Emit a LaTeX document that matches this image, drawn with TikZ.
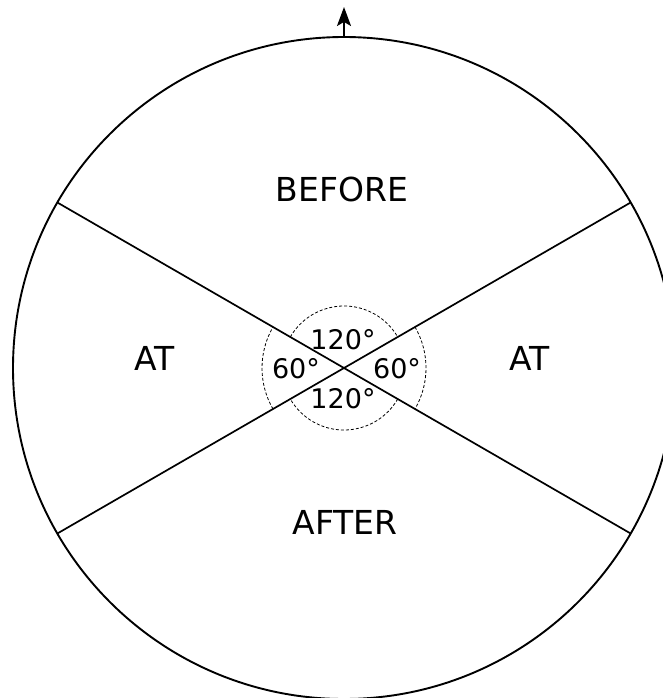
\documentclass[tikz,border=0pt]{standalone}
\usepackage{fontspec}
\setmainfont{DejaVu Sans}
\usetikzlibrary{arrows.meta,calc}
\begin{document}
\begin{tikzpicture}[x=1pt,y=-1pt,
  region/.style={font=\fontsize{33}{38}\selectfont, inner sep=0pt},
  angle/.style={font=\fontsize{27}{31}\selectfont, inner sep=0pt},
  rim/.style={line width=1.9pt},
  divider/.style={line width=1.7pt},
  guide/.style={line width=0.8pt, dash pattern=on 3pt off 2pt}]
  \useasboundingbox (0,0) rectangle (663,698);
  \clip (0,0) rectangle (663,698);

  % centre of the dial
  \coordinate (c) at (344,368);

  % outer circle and the two dividing lines at +/-30 degrees
  \draw[rim] (c) circle (331);
  \coordinate (ul) at ($(c)+(150:331)$);
  \coordinate (lr) at ($(c)+(-30:331)$);
  \coordinate (ur) at ($(c)+(30:331)$);
  \coordinate (ll) at ($(c)+(210:331)$);
  \draw[divider] (ul) -- (lr);
  \draw[divider] (ur) -- (ll);

  % dashed angle arcs: 120 degree sectors at radius 62, 60 degree sectors at radius 82
  \draw[guide] ($(c)+(30:62)$) arc[start angle=30, end angle=150, radius=62];
  \draw[guide] ($(c)+(150:82)$) arc[start angle=150, end angle=210, radius=82];
  \draw[guide] ($(c)+(210:62)$) arc[start angle=210, end angle=330, radius=62];
  \draw[guide] ($(c)+(-30:82)$) arc[start angle=-30, end angle=30, radius=82];

  % direction arrow at the top
  \coordinate (top) at (344,37);
  \coordinate (tip) at (344,7);
  \draw[line width=1.6pt, -{Stealth[length=19pt,width=14pt,inset=4pt]}] (top) -- (tip);

  % region labels
  \node[region] (before) at (342,189) {BEFORE};
  \node[region] (atl) at (155,358) {AT};
  \node[region] (atr) at (530,358) {AT};
  \node[region] (after) at (345,522) {AFTER};

  % angle labels
  \node[angle] (a1) at (343,340) {120°};
  \node[angle] (a2) at (343,399) {120°};
  \node[angle] (a3) at (296,369) {60°};
  \node[angle] (a4) at (397,369) {60°};
\end{tikzpicture}
\end{document}
